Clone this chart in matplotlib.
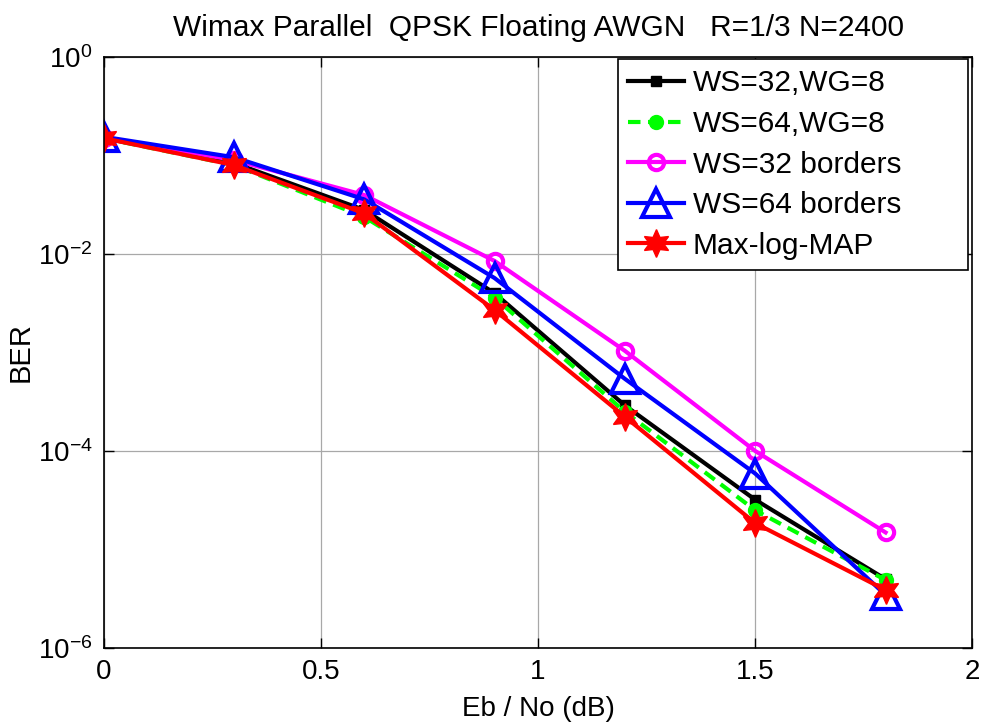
import matplotlib
matplotlib.use("Agg")
import matplotlib.pyplot as plt
from matplotlib.ticker import NullLocator, FixedLocator

plt.rcParams['font.family'] = ['Liberation Sans', 'DejaVu Sans']
plt.rcParams['mathtext.fontset'] = 'custom'
plt.rcParams['mathtext.rm'] = 'Liberation Sans'
plt.rcParams['mathtext.it'] = 'Liberation Sans'
plt.rcParams['mathtext.default'] = 'regular'

# Eb/No sweep (dB) and BER per decoder configuration
ebno = [0.0, 0.3, 0.6, 0.9, 1.2, 1.5, 1.8]
ber_ws32_wg8 = [0.150, 0.084, 0.0280, 0.0040, 2.9e-4, 3.2e-5, 5.0e-6]
ber_ws64_wg8 = [0.150, 0.080, 0.0238, 0.0036, 2.5e-4, 2.5e-5, 4.9e-6]
ber_ws32_borders = [0.152, 0.090, 0.0397, 0.0085, 1.04e-3, 1.0e-4, 1.49e-5]
ber_ws64_borders = [0.155, 0.096, 0.0359, 0.0057, 5.4e-4, 5.9e-5, 3.45e-6]
ber_maxlog = [0.150, 0.080, 0.0259, 0.0027, 2.23e-4, 1.85e-5, 3.88e-6]

labels = ['WS=32,WG=8', 'WS=64,WG=8', 'WS=32 borders', 'WS=64 borders', 'Max-log-MAP']
xticks = [0, 0.5, 1, 1.5, 2]
xtick_labels = ['0', '0.5', '1', '1.5', '2']
yticks = [1e-6, 1e-4, 1e-2, 1e0]
ytick_labels = [r'$10^{-6}$', r'$10^{-4}$', r'$10^{-2}$', r'$10^{0}$']

fig = plt.figure(figsize=(9.87, 7.26), dpi=100)
ax = fig.add_axes([0.1049, 0.1074, 0.8804, 0.8141])

lw = 3.0
ax.semilogy(ebno, ber_ws32_wg8, color='black', lw=lw, marker='s', ms=7,
            mfc='black', mec='black', label=labels[0])
ax.semilogy(ebno, ber_ws64_wg8, color='#00ff00', lw=lw, ls=(0, (3, 1.8)), marker='o', ms=10,
            mfc='#00ff00', mec='#00ff00', label=labels[1])
ax.semilogy(ebno, ber_ws32_borders, color='#ff00ff', lw=lw, marker='o', ms=11,
            mfc='none', mec='#ff00ff', mew=lw, label=labels[2])
ax.semilogy(ebno, ber_ws64_borders, color='#0000ff', lw=lw, marker='^', ms=20,
            mfc='none', mec='#0000ff', mew=lw, label=labels[3])
ax.semilogy(ebno, ber_maxlog, color='#ff0000', lw=lw, marker=(6, 1, 0), ms=20,
            mfc='#ff0000', mec='#ff0000', label=labels[4])

ax.set_xlim(0, 2)
ax.set_ylim(1e-6, 1e0)
ax.xaxis.set_major_locator(FixedLocator(xticks))
ax.set_xticklabels(xtick_labels)
ax.yaxis.set_major_locator(FixedLocator(yticks))
ax.yaxis.set_minor_locator(NullLocator())
ax.set_yticklabels(ytick_labels)

ax.grid(True, which='major', color='#a8a8a8', lw=0.9, ls='-')
ax.set_axisbelow(True)
ax.tick_params(direction='in', length=7, width=1, top=True, right=True,
               labelsize=20, pad=8)
for sp in ax.spines.values():
    sp.set_linewidth(1.2)

ax.set_title('Wimax Parallel  QPSK Floating AWGN   R=1/3 N=2400', fontsize=21.5, pad=15)
ax.set_xlabel('Eb / No (dB)', fontsize=20, labelpad=8)
ax.set_ylabel('BER', fontsize=21, labelpad=2)

leg = ax.legend(loc='upper left', bbox_to_anchor=(0.592, 0.0, 0.403, 0.9966),
                mode='expand', borderaxespad=0.0, fontsize=21.5, frameon=True,
                fancybox=False, edgecolor='black', framealpha=1,
                handlelength=1.85, handletextpad=0.3, labelspacing=0.42,
                borderpad=0.35)
leg.get_frame().set_linewidth(1.2)

fig.savefig('out.png', dpi=100)
